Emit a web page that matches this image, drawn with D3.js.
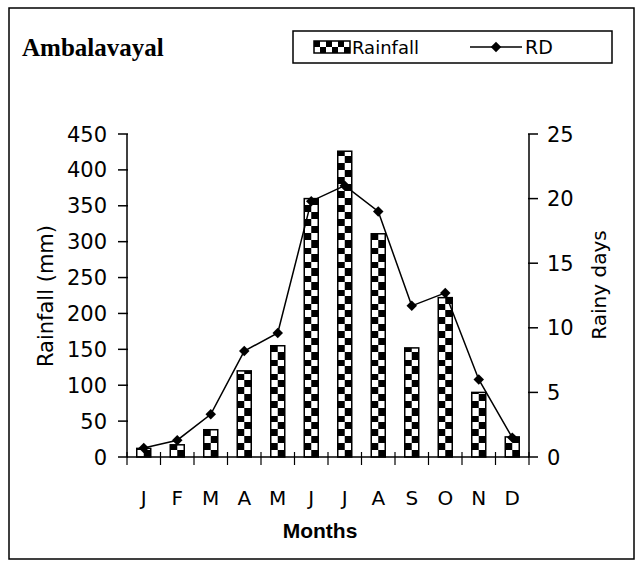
<!DOCTYPE html>
<html>
<head>
<meta charset="utf-8">
<script src="https://cdn.jsdelivr.net/npm/d3@7"></script>
<style>
  body { margin: 0; background: #fff; }
  text { font-family: "DejaVu Sans", Arial, sans-serif; fill: #000; }
</style>
</head>
<body>
<svg id="chart" width="644" height="568"></svg>
<script>

// data ---------------------------------------------------------------
var months = ["J", "F", "M", "A", "M", "J", "J", "A", "S", "O", "N", "D"];
var rainfall = [12, 17, 38, 120, 155, 360, 426, 311, 152, 222, 90, 28];
var rainyDays = [0.7, 1.3, 3.3, 8.2, 9.6, 19.8, 21.0, 19.0, 11.7, 12.7, 6.0, 1.5];
var leftTicks = [0, 50, 100, 150, 200, 250, 300, 350, 400, 450];
var rightTicks = [0, 5, 10, 15, 20, 25];

// setup --------------------------------------------------------------
var svg = d3.select("#chart");
var m = {left: 127, right: 529, top: 134, bottom: 457};

var x = d3.scaleBand()
	.domain(d3.range(months.length))
	.range([m.left, m.right])
	.paddingInner(0).paddingOuter(0);

var yL = d3.scaleLinear().domain([0, 450]).range([m.bottom, m.top]);
var yR = d3.scaleLinear().domain([0, 25]).range([m.bottom, m.top]);

var bw = 14, cell = 7;

// outer frame
svg.append("rect")
	.attr("x", 9).attr("y", 8)
	.attr("width", 625).attr("height", 551)
	.attr("fill", "none").attr("stroke", "#000").attr("stroke-width", 1.5);

// title
svg.append("text")
	.attr("x", 22).attr("y", 56)
	.style("font-family", "'Liberation Serif', 'Times New Roman', serif")
	.style("font-weight", "bold")
	.style("font-size", "25px")
	.text("Ambalavayal");

// checker patterns ---------------------------------------------------
var defs = svg.append("defs");

function checker(id, px, py, w, c, vertical) {
	var p = defs.append("pattern")
		.attr("id", id)
		.attr("patternUnits", "userSpaceOnUse")
		.attr("x", px).attr("y", py);
	if (vertical) {
		p.attr("width", w).attr("height", 2 * c);
		p.append("rect").attr("width", w).attr("height", 2 * c).attr("fill", "#fff");
		p.append("rect").attr("x", 0).attr("y", 0).attr("width", w / 2).attr("height", c).attr("fill", "#000");
		p.append("rect").attr("x", w / 2).attr("y", c).attr("width", w / 2).attr("height", c).attr("fill", "#000");
	} else {
		p.attr("width", 2 * c).attr("height", w);
		p.append("rect").attr("width", 2 * c).attr("height", w).attr("fill", "#fff");
		p.append("rect").attr("x", 0).attr("y", 0).attr("width", c).attr("height", w / 2).attr("fill", "#000");
		p.append("rect").attr("x", c).attr("y", w / 2).attr("width", c).attr("height", w / 2).attr("fill", "#000");
	}
}

rainfall.forEach(function(d, i) {
	var bx = x(i) + x.bandwidth() / 2 - bw / 2;
	checker("chk" + i, bx, m.bottom, bw, cell, true);
});

// bars ---------------------------------------------------------------
svg.append("g").attr("class", "bars")
	.selectAll("rect")
	.data(rainfall)
	.enter()
	.append("rect")
	.attr("x", (d, i) => x(i) + x.bandwidth() / 2 - bw / 2)
	.attr("y", d => yL(d))
	.attr("width", bw)
	.attr("height", d => m.bottom - yL(d))
	.attr("fill", (d, i) => `url(#chk${i})`)
	.attr("stroke", "#000")
	.attr("stroke-width", 1.5);

// rainy days line ----------------------------------------------------
var line = d3.line()
	.x((d, i) => x(i) + x.bandwidth() / 2)
	.y(d => yR(d));

svg.append("path")
	.datum(rainyDays)
	.attr("d", line)
	.attr("fill", "none")
	.attr("stroke", "#000")
	.attr("stroke-width", 1.5);

var diamond = d3.symbol().type(d3.symbolDiamond2).size(70);

svg.append("g").attr("class", "markers")
	.selectAll("path")
	.data(rainyDays)
	.enter()
	.append("path")
	.attr("d", diamond)
	.attr("transform", (d, i) => `translate(${x(i) + x.bandwidth() / 2},${yR(d)})`)
	.attr("fill", "#000");

// axes ---------------------------------------------------------------
var axisStroke = 1.5;

// left axis
var gl = svg.append("g");
gl.append("line")
	.attr("x1", m.left).attr("x2", m.left)
	.attr("y1", yL(450)).attr("y2", yL(0))
	.attr("stroke", "#000").attr("stroke-width", axisStroke);
gl.selectAll(".tk").data(leftTicks).enter().append("line")
	.attr("x1", m.left - 9).attr("x2", m.left + 1)
	.attr("y1", d => yL(d)).attr("y2", d => yL(d))
	.attr("stroke", "#000").attr("stroke-width", axisStroke);
gl.selectAll("text").data(leftTicks).enter().append("text")
	.attr("x", 107).attr("y", d => yL(d))
	.attr("dy", "0.36em")
	.attr("text-anchor", "end")
	.style("font-size", "21px")
	.text(d => d);

// right axis
var gr = svg.append("g");
gr.append("line")
	.attr("x1", m.right).attr("x2", m.right)
	.attr("y1", yR(25)).attr("y2", yR(0))
	.attr("stroke", "#000").attr("stroke-width", axisStroke);
gr.selectAll(".tk").data(rightTicks).enter().append("line")
	.attr("x1", m.right - 1).attr("x2", m.right + 9)
	.attr("y1", d => yR(d)).attr("y2", d => yR(d))
	.attr("stroke", "#000").attr("stroke-width", axisStroke);
gr.selectAll("text").data(rightTicks).enter().append("text")
	.attr("x", 547).attr("y", d => yR(d))
	.attr("dy", "0.36em")
	.attr("text-anchor", "start")
	.style("font-size", "21px")
	.text(d => d);

// x axis
var gx = svg.append("g");
gx.append("line")
	.attr("x1", m.left).attr("x2", m.right)
	.attr("y1", m.bottom).attr("y2", m.bottom)
	.attr("stroke", "#000").attr("stroke-width", axisStroke);
gx.selectAll(".tk").data(d3.range(months.length + 1)).enter().append("line")
	.attr("x1", d => m.left + d * x.bandwidth())
	.attr("x2", d => m.left + d * x.bandwidth())
	.attr("y1", m.bottom - 5).attr("y2", m.bottom + 8)
	.attr("stroke", "#000").attr("stroke-width", 1.2);
gx.selectAll("text").data(months).enter().append("text")
	.attr("x", (d, i) => x(i) + x.bandwidth() / 2)
	.attr("y", 505)
	.attr("text-anchor", "middle")
	.style("font-size", "20px")
	.text(d => d);

// axis titles
svg.append("text")
	.attr("x", 320).attr("y", 538)
	.attr("text-anchor", "middle")
	.style("font-family", "'Liberation Sans', Arial, sans-serif")
	.style("font-size", "21px")
	.style("font-weight", "bold")
	.text("Months");

svg.append("text")
	.attr("transform", "translate(53,296) rotate(-90)")
	.attr("text-anchor", "middle")
	.style("font-size", "21px")
	.text("Rainfall (mm)");

svg.append("text")
	.attr("transform", "translate(606,285) rotate(-90)")
	.attr("text-anchor", "middle")
	.style("font-size", "20px")
	.text("Rainy days");

// legend -------------------------------------------------------------
var lg = svg.append("g");
lg.append("rect")
	.attr("x", 293).attr("y", 31)
	.attr("width", 319).attr("height", 32)
	.attr("fill", "#fff").attr("stroke", "#000").attr("stroke-width", 1.5);

checker("chkLegend", 314, 41, 12, 6, false);
lg.append("rect")
	.attr("x", 314).attr("y", 41)
	.attr("width", 36).attr("height", 12)
	.attr("fill", "url(#chkLegend)")
	.attr("stroke", "#000").attr("stroke-width", 1.5);
lg.append("text")
	.attr("x", 352).attr("y", 54)
	.style("font-size", "18px")
	.text("Rainfall");

lg.append("line")
	.attr("x1", 470).attr("x2", 522)
	.attr("y1", 47).attr("y2", 47)
	.attr("stroke", "#000").attr("stroke-width", 1.5);
lg.append("path")
	.attr("d", diamond)
	.attr("transform", "translate(496,47)")
	.attr("fill", "#000");
lg.append("text")
	.attr("x", 525).attr("y", 54)
	.style("font-size", "19px")
	.text("RD");

</script>
</body>
</html>
